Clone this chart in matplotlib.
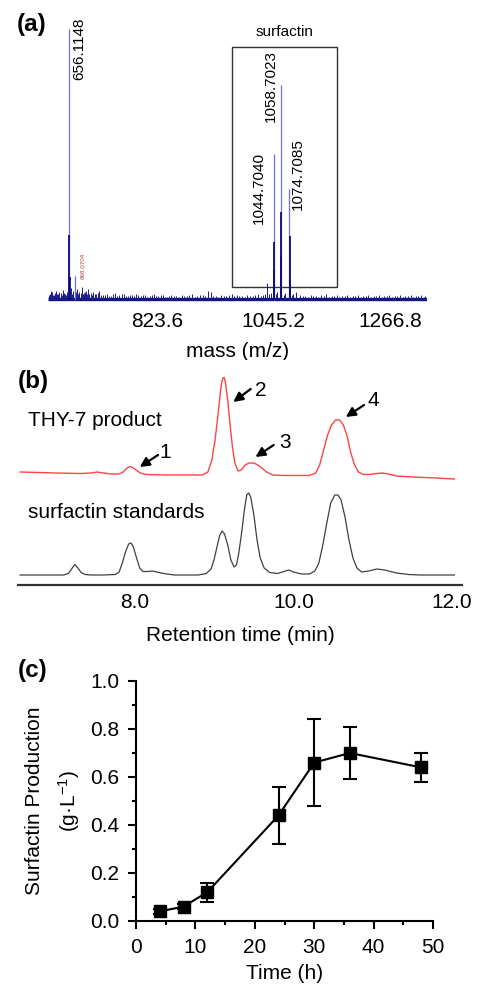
import numpy as np
import matplotlib
matplotlib.use("Agg")
import matplotlib.pyplot as plt

plt.rcParams['font.family'] = ['Liberation Sans', 'DejaVu Sans']
plt.rcParams['mathtext.fontset'] = 'custom'
plt.rcParams['mathtext.rm'] = 'Liberation Sans'
plt.rcParams['mathtext.it'] = 'Liberation Sans:italic'

# ---- (a) mass spectrum ----
main_mz = [656.1148, 668.0704, 1044.7040, 1058.7023, 1074.7085]
main_h = [271, 24, 146, 215, 111]
iso_mz = [656.6, 657.1, 1045.2, 1045.7, 1059.2, 1059.7, 1075.2, 1075.7]
iso_h = [65, 23, 58, 30, 88, 43, 64, 20]
noise_mz = [618, 620, 622, 624, 626, 628, 630, 632, 634, 636, 638, 640, 642, 644,
            646, 648, 650, 652, 660, 662, 664, 667, 670, 672, 674, 676, 678, 680,
            682, 684, 686, 688, 690, 692, 695, 698, 700, 702, 705, 708, 711, 714,
            717, 720, 724, 728, 732, 736, 740, 744, 748, 752, 756, 760, 764, 768,
            772, 776, 780, 784, 788, 792, 796, 800, 805, 810, 814, 818, 822, 826,
            830, 834, 838, 842, 846, 850, 855, 860, 865, 870, 875, 880, 885, 890,
            895, 900, 905, 910, 915, 920, 926, 930, 935, 940, 945, 950, 955, 960,
            965, 970, 975, 980, 985, 990, 995, 1000, 1005, 1010, 1015, 1020, 1025,
            1029, 1033, 1037, 1040, 1050, 1052, 1064, 1066, 1080, 1082, 1088, 1095,
            1100, 1105, 1110, 1115, 1120, 1125, 1130, 1135, 1140, 1145, 1150, 1155,
            1160, 1165, 1170, 1175, 1180, 1185, 1190, 1195, 1200, 1205, 1210, 1215,
            1220, 1225, 1230, 1235, 1240, 1245, 1250, 1255, 1260, 1265, 1270, 1275,
            1280, 1285, 1290, 1295, 1300, 1305, 1310, 1315, 1320, 1325, 1330, 1333]
noise_h = [5, 6, 9, 8, 5, 5, 7, 9, 6, 6, 8, 7, 5, 10, 7, 6, 5, 8, 12, 6, 9, 7, 8,
           11, 6, 8, 7, 13, 6, 7, 8, 9, 6, 11, 6, 7, 5, 8, 6, 6, 7, 9, 5, 5, 5, 6,
           4, 4, 6, 7, 4, 5, 6, 6, 4, 4, 5, 5, 4, 6, 5, 4, 5, 5, 3, 4, 5, 6, 4, 4,
           5, 5, 3, 3, 4, 5, 4, 4, 3, 5, 4, 4, 5, 6, 3, 4, 5, 5, 4, 9, 8, 4, 4, 3,
           5, 4, 4, 5, 6, 4, 5, 4, 4, 3, 5, 4, 4, 5, 6, 4, 5, 6, 17, 6, 7, 6, 8, 5,
           7, 5, 6, 8, 5, 4, 4, 3, 5, 4, 4, 3, 5, 4, 6, 3, 4, 4, 5, 3, 4, 4, 5, 3,
           4, 4, 5, 3, 4, 4, 5, 3, 4, 4, 5, 3, 4, 4, 5, 3, 4, 4, 5, 3, 4, 4, 5, 3,
           4, 4, 5, 3, 4]
mass_ticks = [823.6, 1045.2, 1266.8]

# ---- (b) HPLC traces ----
t_red = [6.55, 6.8, 7.0, 7.3, 7.45, 7.52, 7.6, 7.7, 7.8, 7.85, 7.9, 7.94, 7.98,
         8.03, 8.08, 8.15, 8.4, 8.7, 8.85, 8.92, 8.97, 9.01, 9.05, 9.08, 9.095,
         9.11, 9.125, 9.14, 9.17, 9.20, 9.23, 9.26, 9.30, 9.34, 9.39, 9.44, 9.5,
         9.55, 9.6, 9.66, 9.74, 9.9, 10.05, 10.2, 10.28, 10.33, 10.38, 10.43,
         10.48, 10.53, 10.58, 10.63, 10.68, 10.72, 10.77, 10.82, 10.88, 10.95,
         11.05, 11.12, 11.2, 11.3, 11.5, 11.8, 12.03]
h_red = [113, 112.5, 112, 111.5, 112, 113, 112, 111, 111, 113, 117, 118.5, 117,
         114, 111.5, 110.5, 110, 110, 110, 113, 125, 145, 172, 195, 203, 207,
         207.5, 203, 185, 160, 138, 122, 114, 115, 120, 122, 122, 120, 117, 113,
         110, 109.5, 109.5, 109.5, 112, 120, 135, 150, 160, 165, 165, 160, 148,
         133, 120, 113, 110.5, 110.5, 111.5, 112, 111, 109, 108, 107, 106]
t_std = [6.55, 7.0, 7.1, 7.16, 7.2, 7.24, 7.28, 7.32, 7.37, 7.45, 7.6, 7.75, 7.8,
         7.84, 7.88, 7.92, 7.95, 7.98, 8.02, 8.06, 8.1, 8.16, 8.22, 8.3, 8.4, 8.5,
         8.8, 8.9, 8.96, 9.0, 9.04, 9.07, 9.1, 9.13, 9.17, 9.21, 9.25, 9.28, 9.31,
         9.35, 9.38, 9.41, 9.435, 9.46, 9.5, 9.54, 9.58, 9.63, 9.7, 9.8, 9.88,
         9.94, 10.0, 10.1, 10.2, 10.27, 10.32, 10.37, 10.42, 10.47, 10.52, 10.56,
         10.6, 10.65, 10.7, 10.75, 10.8, 10.86, 10.95, 11.05, 11.15, 11.3, 11.45,
         11.6, 12.03]
h_std = [10, 10, 10, 11.5, 16, 20.5, 17, 12.5, 10.5, 10, 10, 10.5, 13, 22, 33, 41,
         42, 38, 27, 17, 13.5, 13.5, 14, 12.5, 11, 10, 10, 11.5, 16, 26, 40, 50,
         54, 51, 40, 25, 18, 20, 32, 55, 75, 90, 92, 88, 70, 45, 27, 17, 12.5,
         11.5, 13.5, 15, 13, 11, 11, 14, 22, 40, 62, 82, 90, 90, 85, 68, 45, 27,
         17, 13, 14, 16, 15, 12, 10.5, 10, 10]
rt_ticks = [8.0, 10.0, 12.0]

# ---- (c) time course ----
time_h = [4, 8, 12, 24, 30, 36, 48]
prod = [0.04, 0.06, 0.12, 0.44, 0.66, 0.70, 0.64]
prod_err = [0.01, 0.01, 0.04, 0.12, 0.18, 0.11, 0.06]

W, H = 479, 986
fig = plt.figure(figsize=(W / 100, H / 100), dpi=100)


def box(left, top, right, bottom):
    return [left / W, (H - bottom) / H, (right - left) / W, (bottom - top) / H]


# panel a
ax = fig.add_axes(box(48, 15, 427, 302))
ax.plot([616, 1336], [1.2, 1.2], color='#101080', lw=2.4, solid_capstyle='butt')
ax.vlines(noise_mz, 0, noise_h, color='#1a1a90', lw=0.7)
ax.vlines(main_mz, 0, main_h, color='#7070cc', lw=0.9)
ax.vlines(iso_mz, 0, iso_h, color='#0c0c80', lw=1.3)
ax.add_patch(plt.Rectangle((965.8, 13), 1165.3 - 965.8, 240, fill=False,
                           ec='#333333', lw=1.0))
ax.text(1064.6, 268, 'surfactin', ha='center', va='center', fontsize=11)
ax.text(675.1, 251.5, '656.1148', rotation=90, ha='center', va='center', fontsize=11)
ax.text(1039.9, 214, '1058.7023', rotation=90, ha='center', va='center', fontsize=11)
ax.text(1017.1, 111.5, '1044.7040', rotation=90, ha='center', va='center', fontsize=11)
ax.text(1091.2, 125.5, '1074.7085', rotation=90, ha='center', va='center', fontsize=11)
ax.text(683.5, 34, '668.0704', rotation=90, ha='center', va='center', fontsize=4.5,
        color='#b04040')
ax.set_xlim(616.2, 1336.3)
ax.set_ylim(-2, 285)
ax.set_xticks(mass_ticks)
ax.set_xticklabels(['823.6', '1045.2', '1266.8'])
ax.set_yticks([])
ax.tick_params(axis='x', length=0, pad=7, labelsize=15)
for s in ax.spines.values():
    s.set_visible(False)
ax.set_xlabel('mass (m/z)', fontsize=15, labelpad=8)

# panel b
bx = fig.add_axes(box(18, 360, 462, 585))
bx.plot(t_red, h_red, color='#ff4444', lw=1.0)
bx.plot(t_std, h_std, color='#404040', lw=0.9)
bx.set_xlim(6.524, 12.126)
bx.set_ylim(0, 225)
bx.set_xticks(rt_ticks)
bx.set_xticklabels(['8.0', '10.0', '12.0'])
bx.set_yticks([])
bx.tick_params(axis='x', length=0, pad=6, labelsize=15)
for k in ['top', 'left', 'right']:
    bx.spines[k].set_visible(False)
bx.spines['bottom'].set_linewidth(1.6)
bx.spines['bottom'].set_color('#303030')
bx.set_xlabel('Retention time (min)', fontsize=15, labelpad=10)
bx.text(6.65, 164, 'THY-7 product', fontsize=15, va='center')
bx.text(6.65, 73, 'surfactin standards', fontsize=15, va='center')
arrows = [((8.29, 130), (8.06, 118), '1', (8.38, 133)),
          ((9.46, 196), (9.24, 183), '2', (9.59, 195)),
          ((9.75, 140), (9.52, 128), '3', (9.89, 142)),
          ((10.89, 180), (10.66, 168), '4', (11.01, 185))]
for tail, head, lab, pos in arrows:
    bx.annotate('', xy=head, xytext=tail,
                arrowprops=dict(arrowstyle='-|>', color='black', lw=1.6,
                                mutation_scale=14, shrinkA=0, shrinkB=0))
    bx.text(pos[0], pos[1], lab, fontsize=15, ha='center', va='center')

# panel c
cx = fig.add_axes(box(136, 681, 433, 921))
cx.errorbar(time_h, prod, yerr=prod_err, color='black', marker='s', ms=8,
            lw=1.5, elinewidth=1.5, capsize=5, capthick=1.5)
cx.set_xlim(0, 50)
cx.set_ylim(0, 1.0)
cx.set_xticks([0, 10, 20, 30, 40, 50])
cx.set_xticks([5, 15, 25, 35, 45], minor=True)
cx.set_yticks([0.0, 0.2, 0.4, 0.6, 0.8, 1.0])
cx.set_yticks([0.1, 0.3, 0.5, 0.7, 0.9], minor=True)
cx.set_yticklabels(['0.0', '0.2', '0.4', '0.6', '0.8', '1.0'])
cx.tick_params(which='major', length=5.5, width=1.5, labelsize=15, pad=6.5)
cx.tick_params(which='minor', length=3, width=1.5)
for k in ['top', 'right']:
    cx.spines[k].set_visible(False)
for k in ['left', 'bottom']:
    cx.spines[k].set_linewidth(1.5)
cx.set_xlabel('Time (h)', fontsize=15, labelpad=5)
cx.set_ylabel('Surfactin Production\n(g\u00b7L$^{-1}$)', fontsize=15,
              linespacing=1.6, labelpad=6)

fig.text(32 / W, 1 - 25 / H, '(a)', fontsize=17.5, fontweight='bold', ha='center', va='center')
fig.text(33 / W, 1 - 382 / H, '(b)', fontsize=17.5, fontweight='bold', ha='center', va='center')
fig.text(33 / W, 1 - 670 / H, '(c)', fontsize=17.5, fontweight='bold', ha='center', va='center')

fig.savefig('out.png', dpi=100)
